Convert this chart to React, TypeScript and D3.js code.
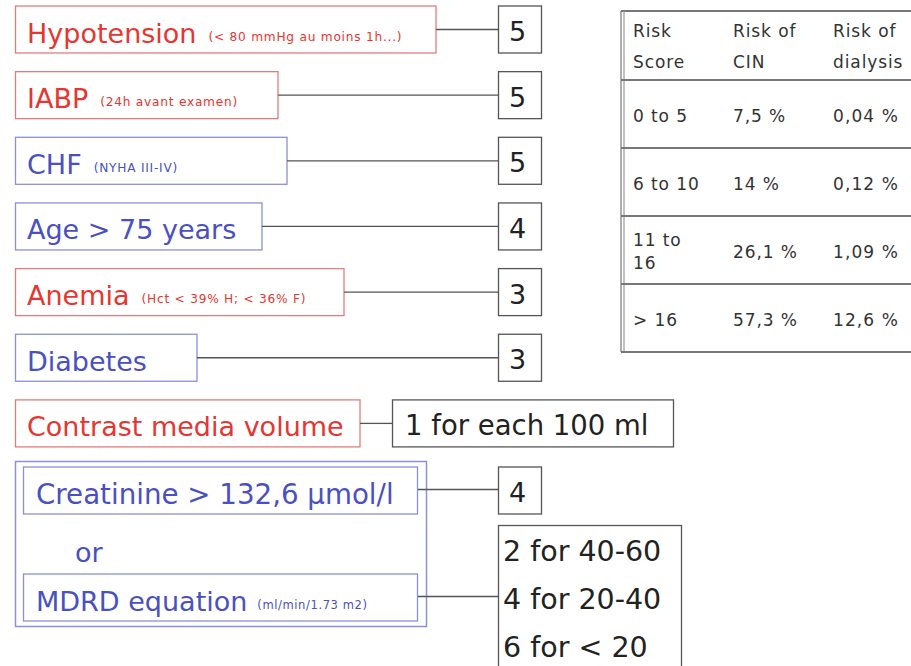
import React from "react";
import * as d3 from "d3";

// ---------- data ----------
const factorLabels = ["Hypotension", "IABP", "CHF", "Age > 75 years", "Anemia", "Diabetes", "Contrast media volume"];
const factorNotes = ["(< 80 mmHg au moins 1h...)", "(24h avant examen)", "(NYHA III-IV)", "", "(Hct < 39% H; < 36% F)", "", ""];
const factorGroups = ["red", "red", "blue", "blue", "red", "blue", "red"];
const factorScores = ["5", "5", "5", "4", "3", "3", "1 for each 100 ml"];

const renalLabels = ["Creatinine > 132,6 µmol/l", "MDRD equation"];
const renalNotes = ["", "(ml/min/1.73 m2)"];
const renalOr = "or";
const creatinineScore = "4";
const mdrdScores = ["2 for 40-60", "4 for 20-40", "6 for < 20"];

const tableHeaders = [["Risk", "Score"], ["Risk of", "CIN"], ["Risk of", "dialysis"]];
const riskScores = [["0 to 5"], ["6 to 10"], ["11 to", "16"], ["> 16"]];
const riskCIN = ["7,5 %", "14 %", "26,1 %", "57,3 %"];
const riskDialysis = ["0,04 %", "0,12 %", "1,09 %", "12,6 %"];

// ---------- layout / style ----------
const W = 911;
const H = 666;
const FONT = "'DejaVu Sans', Verdana, sans-serif";
const boxRight = [436, 278, 287, 262, 344, 197, 360];
const COLORS: Record<string, { text: string; border: string }> = {
  red: { text: "#e8352f", border: "#e27d7d" },
  blue: { text: "#4a50c2", border: "#8c90d8" },
};
const DARK = "#555";
const LABEL_SIZE = 27;

export default function App() {
  const rowY = d3.scaleLinear().domain([0, factorLabels.length - 1]).range([29.5, 423.4]);
  const boxH = 47;
  const scoreX = 498;
  const scoreW = 43;

  // renal block
  const renalY = d3.scaleLinear().domain([0, 1]).range([490.5, 597.5]);
  const mdrdY = d3.scaleLinear().domain([0, mdrdScores.length - 1]).range([561, 657]);

  // table
  const colX = d3.scaleLinear().domain([0, 2]).range([633, 833]);
  const tRow = d3.scaleLinear().domain([0, riskScores.length]).range([80, 352]);
  const tTop = 11;
  const tLeft = 621;

  return (
    <svg
      width={W}
      height={H}
      style={{ position: "absolute", left: 0, top: 0, background: "#fff" }}
      fontFamily={FONT}
    >
      <rect x={0} y={0} width={W} height={H} fill="#fff" />

      {/* risk factors */}
      {factorLabels.map((label, i) => {
        const c = COLORS[factorGroups[i]];
        const cy = rowY(i);
        const isWide = factorScores[i].length > 2;
        const sx = isWide ? 392 : scoreX;
        const sw = isWide ? 281 : scoreW;
        return (
          <g key={label}>
            <rect x={15.5} y={cy - boxH / 2} width={boxRight[i] - 15.5} height={boxH} fill="#fff" stroke={c.border} strokeWidth={1.3} />
            <text x={27} y={cy + 13} fill={c.text} fontSize={LABEL_SIZE}>
              {label}
              {factorNotes[i] && (
                <tspan dx={12} dy={-2} fontSize={12.2} letterSpacing={0.75}>
                  {factorNotes[i]}
                </tspan>
              )}
            </text>
            <line x1={boxRight[i]} x2={sx} y1={cy} y2={cy} stroke={DARK} strokeWidth={1.3} />
            <rect x={sx + 0.5} y={cy - boxH / 2} width={sw} height={boxH} fill="#fff" stroke={DARK} strokeWidth={1.3} />
            <text x={sx + (isWide ? 13 : 11)} y={cy + 11.5} fill="#222" fontSize={isWide ? 27.5 : 27}>
              {factorScores[i]}
            </text>
          </g>
        );
      })}

      {/* renal block */}
      <rect x={15.5} y={461.5} width={411} height={165} fill="#fff" stroke={COLORS.blue.border} strokeWidth={1.5} />
      {renalLabels.map((label, i) => {
        const cy = renalY(i);
        return (
          <g key={label}>
            <rect x={23.5} y={cy - boxH / 2} width={394} height={boxH} fill="#fff" stroke={COLORS.blue.border} strokeWidth={1.3} />
            <text x={36} y={cy + 13} fill={COLORS.blue.text} fontSize={i === 0 ? 27.7 : LABEL_SIZE}>
              {label}
              {renalNotes[i] && (
                <tspan dx={10} dy={-2} fontSize={11.5} letterSpacing={0.6}>
                  {renalNotes[i]}
                </tspan>
              )}
            </text>
            <line x1={418} x2={scoreX} y1={cy - 1} y2={cy - 1} stroke={DARK} strokeWidth={1.3} />
          </g>
        );
      })}
      <text x={75} y={562} fill={COLORS.blue.text} fontSize={LABEL_SIZE}>
        {renalOr}
      </text>
      <rect x={scoreX + 0.5} y={renalY(0) - boxH / 2} width={scoreW} height={boxH} fill="#fff" stroke={DARK} strokeWidth={1.3} />
      <text x={scoreX + 11} y={renalY(0) + 11.5} fill="#222" fontSize={27}>
        {creatinineScore}
      </text>
      <rect x={scoreX + 0.5} y={525.5} width={183} height={160} fill="#fff" stroke={DARK} strokeWidth={1.3} />
      {mdrdScores.map((s, i) => (
        <text key={s} x={scoreX + 5} y={mdrdY(i)} fill="#222" fontSize={28.5}>
          {s}
        </text>
      ))}

      {/* risk table */}
      <g>
        <line x1={tLeft} x2={W} y1={tTop} y2={tTop} stroke="#777" strokeWidth={2} />
        <line x1={tLeft} x2={tLeft} y1={tTop} y2={tRow(riskScores.length)} stroke="#777" strokeWidth={1.2} />
        <line x1={tLeft + 3} x2={tLeft + 3} y1={tTop} y2={tRow(riskScores.length)} stroke="#999" strokeWidth={1.2} />
        {d3.range(riskScores.length + 1).map((r) => (
          <line key={r} x1={tLeft} x2={W} y1={tRow(r)} y2={tRow(r)} stroke="#777" strokeWidth={2} />
        ))}
        {tableHeaders.map((h, c) =>
          h.map((t, k) => (
            <text key={`${c}-${k}`} x={colX(c)} y={37 + k * 31} fill="#333" fontSize={17} letterSpacing={0.9}>
              {t}
            </text>
          ))
        )}
        {riskScores.map((lines, r) => {
          const cy = (tRow(r) + tRow(r + 1)) / 2;
          return (
            <g key={r}>
              {lines.map((t, k) => (
                <text key={k} x={colX(0)} y={cy + 7.5 + (k - (lines.length - 1) / 2) * 23} fill="#333" fontSize={17} letterSpacing={0.9}>
                  {t}
                </text>
              ))}
              <text x={colX(1)} y={cy + 7.5} fill="#333" fontSize={17} letterSpacing={0.9}>
                {riskCIN[r]}
              </text>
              <text x={colX(2)} y={cy + 7.5} fill="#333" fontSize={17} letterSpacing={1.1}>
                {riskDialysis[r]}
              </text>
            </g>
          );
        })}
      </g>
    </svg>
  );
}
